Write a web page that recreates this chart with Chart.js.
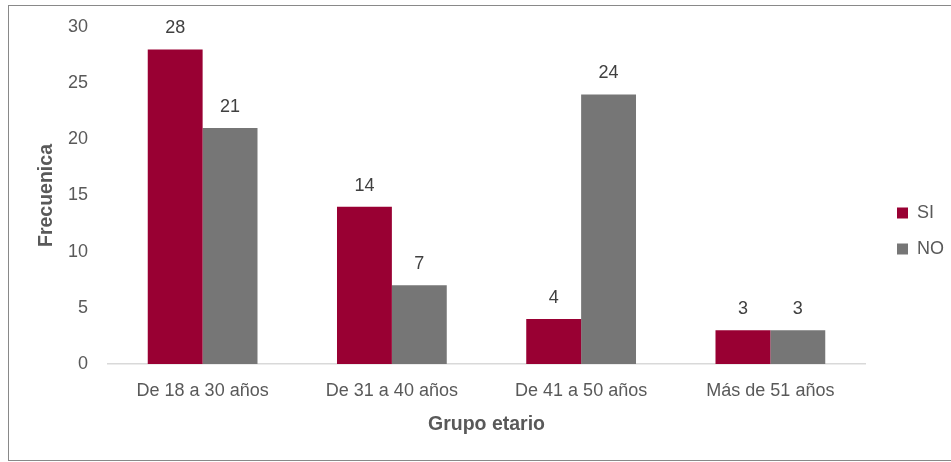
<!DOCTYPE html>
<html>
<head>
<meta charset="utf-8">
<script src="https://cdn.jsdelivr.net/npm/chart.js@4/dist/chart.umd.min.js"></script>
<style>
  html, body { margin: 0; padding: 0; background: #fff; overflow: hidden; }
  #marco {
    position: absolute; left: 8px; top: 5px;
    width: 950px; height: 454px;
    border: 1px solid #898989;
  }
  #marco canvas { display: block; }
</style>
</head>
<body>
<div id="marco">
  <canvas id="grafico" width="942" height="454"></canvas>
</div>
<script>
// Datos del gráfico
const categorias = ['De 18 a 30 años', 'De 31 a 40 años', 'De 41 a 50 años', 'Más de 51 años'];
const valoresSI = [28, 14, 4, 3];
const valoresNO = [21, 7, 24, 3];
const ticksY = [0, 5, 10, 15, 20, 25, 30];

const fuente = 'Arial, "Liberation Sans", sans-serif';

// Etiquetas de valor encima de cada barra
const etiquetasValor = {
  id: 'etiquetasValor',
  afterDatasetsDraw(chart) {
    const ctx = chart.ctx;
    ctx.save();
    ctx.font = '18px ' + fuente;
    ctx.fillStyle = '#404040';
    ctx.textAlign = 'center';
    ctx.textBaseline = 'middle';
    chart.data.datasets.forEach((ds, i) => {
      chart.getDatasetMeta(i).data.forEach((bar, j) => {
        ctx.fillText(ds.data[j], bar.x, bar.y - 21);
      });
    });
    ctx.restore();
  }
};

// Ancho fijo para la leyenda de la derecha
const anchoLeyenda = {
  id: 'anchoLeyenda',
  beforeUpdate(chart) {
    const leyenda = chart.legend;
    if (!leyenda || leyenda._anchoFijo) return;
    const fitOriginal = leyenda.fit;
    leyenda.fit = function() {
      fitOriginal.call(this);
      this.width = 72;
    };
    leyenda._anchoFijo = true;
  }
};

function initGrafico() {
  const ctx = document.getElementById('grafico');
  new Chart(ctx, {
    type: 'bar',
    data: {
      labels: categorias,
      datasets: [
        { label: 'SI', data: valoresSI, backgroundColor: '#990033' },
        { label: 'NO', data: valoresNO, backgroundColor: '#767676' }
      ]
    },
    options: {
      responsive: false,
      animation: false,
      layout: { padding: { top: 12, right: 0, bottom: 16, left: 0 } },
      datasets: {
        bar: { categoryPercentage: 0.58, barPercentage: 1.0 }
      },
      plugins: {
        legend: {
          position: 'right',
          labels: {
            boxWidth: 11,
            boxHeight: 11,
            padding: 18,
            color: '#595959',
            font: { family: fuente, size: 18 }
          }
        },
        tooltip: { enabled: false }
      },
      scales: {
        x: {
          grid: { display: false, drawTicks: false },
          border: { color: '#d9d9d9', width: 1.5 },
          ticks: {
            color: '#595959',
            padding: 16,
            maxRotation: 0,
            font: { family: fuente, size: 18 }
          },
          title: {
            display: true,
            text: 'Grupo etario',
            color: '#595959',
            padding: { top: 0, bottom: 8 },
            font: { family: fuente, size: 19.5, weight: 'bold' }
          },
          afterFit(scale) { scale.height = 80; }
        },
        y: {
          min: 0,
          max: 30,
          afterBuildTicks(scale) { scale.ticks = ticksY.map(v => ({ value: v })); },
          grid: { display: false, drawTicks: false },
          border: { display: false },
          ticks: {
            color: '#595959',
            padding: 20,
            font: { family: fuente, size: 18 }
          },
          title: {
            display: true,
            text: 'Frecuenica',
            color: '#595959',
            padding: { top: 26, bottom: 0 },
            font: { family: fuente, size: 19.5, weight: 'bold' }
          },
          afterFit(scale) {
            scale.width = 99;
            scale.paddingTop = 21;
            scale.paddingBottom = 0;
          }
        },
        // espacio vacío entre el área del gráfico y la leyenda
        relleno: {
          type: 'linear',
          position: 'right',
          grid: { display: false, drawTicks: false },
          border: { display: false },
          ticks: { display: false },
          afterFit(scale) {
            scale.width = 14;
            scale.paddingTop = 0;
            scale.paddingBottom = 0;
          }
        }
      }
    },
    plugins: [etiquetasValor, anchoLeyenda]
  });
}

document.addEventListener('DOMContentLoaded', initGrafico);
</script>
</body>
</html>
